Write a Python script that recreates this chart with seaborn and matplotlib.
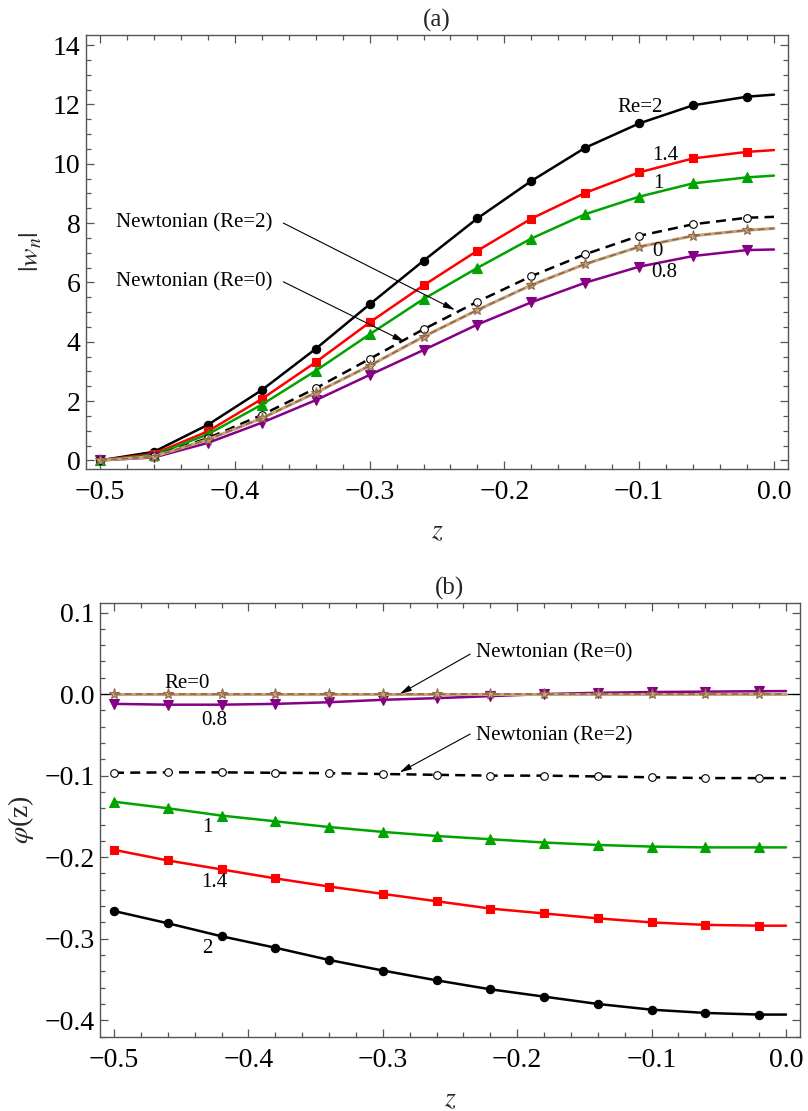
import numpy as np
import pandas as pd
import matplotlib
matplotlib.use("Agg")
import matplotlib.pyplot as plt
from matplotlib.ticker import MultipleLocator, FuncFormatter
import seaborn as sns

# ---------------- data ----------------
z = [-0.5, -0.46, -0.42, -0.38, -0.34, -0.30, -0.26, -0.22, -0.18, -0.14, -0.10, -0.06, -0.02, 0.0]

# panel (a) |w_n|
wn_re2   = [0.0, 0.29, 1.20, 2.37, 3.76, 5.26, 6.73, 8.16, 9.42, 10.54, 11.36, 11.97, 12.26, 12.33]
wn_re14  = [0.0, 0.22, 0.98, 2.07, 3.31, 4.65, 5.90, 7.07, 8.15, 9.02, 9.71, 10.18, 10.40, 10.46]
wn_re1   = [0.0, 0.18, 0.88, 1.88, 3.02, 4.25, 5.44, 6.49, 7.48, 8.30, 8.89, 9.34, 9.54, 9.60]
wn_newt2 = [0.0, 0.15, 0.75, 1.53, 2.43, 3.42, 4.42, 5.35, 6.21, 6.95, 7.57, 7.96, 8.18, 8.21]
wn_re0   = [0.0, 0.13, 0.70, 1.42, 2.28, 3.19, 4.17, 5.07, 5.91, 6.62, 7.20, 7.57, 7.76, 7.82]
wn_newt0 = [0.0, 0.13, 0.70, 1.42, 2.28, 3.19, 4.17, 5.07, 5.91, 6.62, 7.20, 7.57, 7.76, 7.82]
wn_re08  = [0.0, 0.10, 0.59, 1.27, 2.03, 2.88, 3.72, 4.58, 5.33, 5.99, 6.53, 6.89, 7.09, 7.11]

# panel (b) phi(z)
ph_re2   = [-0.266, -0.281, -0.297, -0.311, -0.326, -0.339, -0.351, -0.362, -0.371, -0.380, -0.387, -0.391, -0.393, -0.393]
ph_re14  = [-0.191, -0.204, -0.215, -0.226, -0.236, -0.245, -0.254, -0.263, -0.269, -0.275, -0.280, -0.283, -0.284, -0.284]
ph_re1   = [-0.132, -0.140, -0.149, -0.156, -0.163, -0.169, -0.174, -0.178, -0.182, -0.185, -0.187, -0.188, -0.188, -0.188]
ph_newt2 = [-0.0965, -0.096, -0.096, -0.0965, -0.097, -0.098, -0.099, -0.100, -0.100, -0.101, -0.102, -0.103, -0.103, -0.103]
ph_re0   = [0.0] * 14
ph_newt0 = [0.0] * 14
ph_re08  = [-0.012, -0.013, -0.013, -0.012, -0.010, -0.007, -0.005, -0.0025, 0.0, 0.0016, 0.0025, 0.003, 0.0035, 0.0037]

xticks = [-0.5, -0.4, -0.3, -0.2, -0.1, 0.0]
yticks_a = [0, 2, 4, 6, 8, 10, 12, 14]
yticks_b = [0.1, 0.0, -0.1, -0.2, -0.3, -0.4]

# ---------------- style ----------------
sns.set_style("ticks")
plt.rcParams["font.family"] = ["Liberation Serif", "DejaVu Sans"]
plt.rcParams["mathtext.fontset"] = "stix"
plt.rcParams["axes.unicode_minus"] = True

fig = plt.figure(figsize=(8.08, 11.11), dpi=100)
axA = fig.add_axes([86 / 808, 1 - 469 / 1111, 702 / 808, 434 / 1111])
axB = fig.add_axes([100 / 808, 1 - 1037 / 1111, 700 / 808, 434 / 1111])

BLACK = "#000000"
RED = "#ff0000"
GREEN = "#00a400"
PURPLE = "#850085"
BROWN_L = "#c9a27c"
BROWN_D = "#8f6a48"
MK = list(range(13))


def draw(ax, vals, color, marker, ms, ls="-", lw=1.8, mfc=None, mec=None, zorder=3):
    df = pd.DataFrame({"z": z, "v": vals})
    sns.lineplot(data=df, x="z", y="v", ax=ax, color=color, lw=lw, linestyle=ls,
                 marker=marker, markersize=ms, markevery=MK,
                 markerfacecolor=mfc if mfc else color,
                 markeredgecolor=mec if mec else color,
                 markeredgewidth=0.8, estimator=None, sort=False, zorder=zorder)


def draw_all(ax, re2, re14, re1, newt2, re0, newt0, re08):
    draw(ax, re2, BLACK, "o", 6)
    draw(ax, re14, RED, "s", 5.5)
    draw(ax, re1, GREEN, "^", 7)
    draw(ax, re08, PURPLE, "v", 7)
    draw(ax, newt2, BLACK, "o", 5.5, ls=(0, (4, 2.5)), mfc="white", mec=BLACK, zorder=4)
    draw(ax, re0, BROWN_L, "*", 8, lw=2.2, mfc=BROWN_L, mec=BROWN_D, zorder=4)
    draw(ax, newt0, BROWN_D, None, 0, ls=(0, (4, 2.5)), lw=1.2, zorder=5)


draw_all(axA, wn_re2, wn_re14, wn_re1, wn_newt2, wn_re0, wn_newt0, wn_re08)
draw_all(axB, ph_re2, ph_re14, ph_re1, ph_newt2, ph_re0, ph_newt0, ph_re08)
axB.axhline(0, color="black", lw=0.9, zorder=2)

fmt_minus = FuncFormatter(lambda v, p: ("%.1f" % v).replace("-", "\u2212") if abs(v) > 1e-9 else "0.0")

for ax in (axA, axB):
    ax.set_xlim(-0.5104, 0.0104)
    ax.set_xticks(xticks)
    ax.xaxis.set_major_formatter(fmt_minus)
    ax.xaxis.set_minor_locator(MultipleLocator(0.02))
    ax.tick_params(which="both", direction="in", top=True, right=True, colors="#555555",
                   labelcolor="black", labelsize=20, width=0.9)
    ax.tick_params(which="major", length=6)
    ax.tick_params(which="minor", length=3.5)
    ax.tick_params(axis="x", pad=8)
    ax.tick_params(axis="y", pad=4)
    for sp in ax.spines.values():
        sp.set_color("#555555")
        sp.set_linewidth(1.0)
    ax.set_xlabel("$z$", fontsize=20, labelpad=10)

axA.set_ylim(-0.29, 14.34)
axA.set_yticks(yticks_a)
axA.yaxis.set_minor_locator(MultipleLocator(0.5))
axA.set_ylabel(r"$|w_n|$", fontsize=20, labelpad=6)
axA.set_title("(a)", fontsize=18, pad=6)

axB.set_ylim(-0.4205, 0.1117)
axB.set_yticks(yticks_b)
axB.yaxis.set_major_formatter(fmt_minus)
axB.yaxis.set_minor_locator(MultipleLocator(0.02))
axB.set_ylabel(r"$\varphi$(z)", fontsize=20, labelpad=6)
axB.set_title("(b)", fontsize=18, pad=6)

# curve labels
lab = dict(fontsize=15, ha="center", va="center", color="black", zorder=6)
axA.text(-0.0994, 11.91, "Re=2", **lab)
axA.text(-0.081, 10.29, "1.4", **lab)
axA.text(-0.086, 9.35, "1", **lab)
axA.text(-0.0864, 7.03, "0", **lab)
axA.text(-0.0816, 6.33, "0.8", **lab)

axB.text(-0.4457, 0.0131, "Re=0", **lab)
axB.text(-0.4252, -0.0327, "0.8", **lab)
axB.text(-0.4308, -0.163, "1", **lab)
axB.text(-0.4252, -0.2315, "1.4", **lab)
axB.text(-0.4303, -0.312, "2", **lab)

arrow = dict(arrowstyle="-|>,head_length=0.7,head_width=0.18", color="black", lw=0.8,
             shrinkA=0, shrinkB=0)
txt = dict(fontsize=15, ha="left", va="center", color="black", zorder=6)

axA.text(-0.488, 8.01, "Newtonian (Re=2)", **txt)
axA.annotate("", xy=(-0.2366, 5.07), xytext=(-0.364, 8.0), arrowprops=arrow)
axA.text(-0.488, 6.02, "Newtonian (Re=0)", **txt)
axA.annotate("", xy=(-0.274, 4.0), xytext=(-0.364, 6.02), arrowprops=arrow)

axB.text(-0.2309, 0.050, "Newtonian (Re=0)", **txt)
axB.annotate("", xy=(-0.2875, 0.0), xytext=(-0.235, 0.049), arrowprops=arrow)
axB.text(-0.2309, -0.0512, "Newtonian (Re=2)", **txt)
axB.annotate("", xy=(-0.2875, -0.096), xytext=(-0.235, -0.049), arrowprops=arrow)

fig.savefig("out.png", dpi=100)
